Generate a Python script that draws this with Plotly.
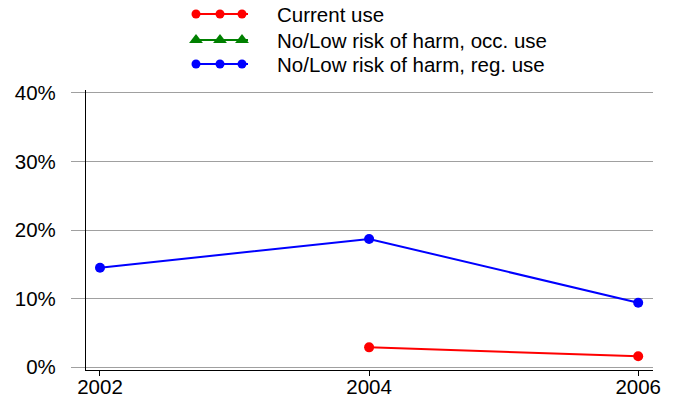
import plotly.graph_objects as go

# Survey years and series values (share of respondents)
years = [2002, 2004, 2006]
current_use = [None, 0.029, 0.016]
low_risk_occ = [None, None, None]
low_risk_reg = [0.145, 0.187, 0.094]

series_names = [
    "Current use",
    "No/Low risk of harm, occ. use",
    "No/Low risk of harm, reg. use",
]
series_colors = ["#ff0000", "#008000", "#0000ff"]
series_symbols = ["circle", "triangle-up", "circle"]
series_values = [current_use, low_risk_occ, low_risk_reg]

y_ticks = [0, 0.1, 0.2, 0.3, 0.4]

FONT = "Liberation Sans, Arial, sans-serif"
W, H = 674, 400
ML, MR, MB = 86, 21, 30
PLOT_TOP = 90
paper_h = H - MB

fig = go.Figure()

for name, vals, color, sym in zip(series_names, series_values, series_colors, series_symbols):
    fig.add_trace(go.Scatter(
        x=years, y=vals, mode="lines+markers", name=name,
        line=dict(color=color, width=2),
        marker=dict(color=color, size=10, symbol=sym),
        showlegend=False, connectgaps=False,
    ))

# Legend block above the plot, drawn on an overlay axis measured in pixels
leg_x0, leg_x1 = 192, 248
leg_text_x = 275
leg_rows = [14, 40, 64]
for name, color, sym, row in zip(series_names, series_colors, series_symbols, leg_rows):
    fig.add_trace(go.Scatter(
        x=[leg_x0, leg_x1], y=[row, row], mode="lines",
        line=dict(color=color, width=1.8), xaxis="x2", yaxis="y2",
        showlegend=False, hoverinfo="skip",
    ))
    mid = (leg_x0 + leg_x1) / 2
    fig.add_trace(go.Scatter(
        x=[leg_x0 + 4, mid, leg_x1 - 6], y=[row] * 3, mode="markers",
        marker=dict(color=color, size=12 if sym != "circle" else 9, symbol=sym),
        xaxis="x2", yaxis="y2", showlegend=False, hoverinfo="skip",
    ))
    fig.add_annotation(
        x=leg_text_x, y=row, xref="x2", yref="y2", text=name,
        showarrow=False, xanchor="left", yanchor="middle",
        font=dict(family=FONT, size=20.5, color="black"),
    )

fig.update_layout(
    width=W, height=H,
    margin=dict(l=ML, r=MR, t=0, b=MB),
    paper_bgcolor="white", plot_bgcolor="rgba(0,0,0,0)",
    font=dict(family=FONT, size=20, color="black"),
    xaxis=dict(
        range=[2001.896, 2006.11], tickvals=years, ticktext=[str(y) for y in years],
        showgrid=False, zeroline=False, automargin=False,
        showline=True, linecolor="black", linewidth=1.2,
        ticks="outside", ticklen=5, tickcolor="black",
        ticklabelstandoff=-7,
        tickfont=dict(family=FONT, size=20.5, color="black"),
        domain=[0, 1],
    ),
    yaxis=dict(
        range=[-0.004, 0.404], tickvals=y_ticks, tickformat=".0%",
        showgrid=True, gridcolor="#a0a0a0", gridwidth=1, zeroline=False, automargin=False,
        showline=True, linecolor="black", linewidth=1.2,
        ticks="outside", ticklen=14, tickcolor="#a0a0a0",
        ticklabelstandoff=11,
        tickfont=dict(family=FONT, size=20.5, color="black"),
        domain=[0, (paper_h - PLOT_TOP) / paper_h],
    ),
    xaxis2=dict(range=[ML, W - MR], domain=[0, 1], anchor="y2", visible=False,
                fixedrange=True, automargin=False),
    yaxis2=dict(range=[paper_h, 0], domain=[0, 1], anchor="x2", visible=False,
                fixedrange=True, automargin=False),
)

fig.write_html("out.html")
